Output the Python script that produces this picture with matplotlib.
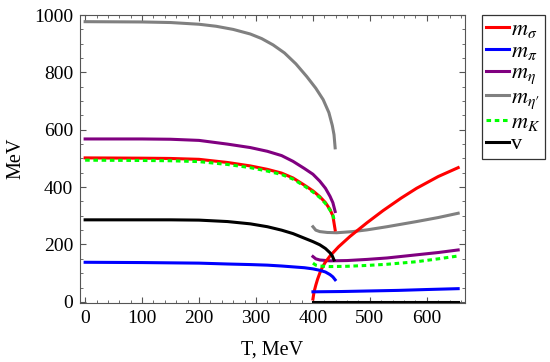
import numpy as np
import matplotlib
matplotlib.use('Agg')
import matplotlib.pyplot as plt
from matplotlib.ticker import MultipleLocator

plt.rcParams['font.family'] = ['Liberation Serif', 'DejaVu Serif']
plt.rcParams['mathtext.fontset'] = 'stix'

# ---- data (T in MeV, masses in MeV) ----
# low temperature branches
T_gray_lo = [0, 100, 150, 200, 230, 260, 290, 310, 330, 350, 370, 389, 405, 418, 428, 434, 437, 439]
gray_lo = [977, 976, 974, 968, 961, 950, 934, 918, 896, 868, 830, 786, 745, 705, 660, 615, 583, 537]

T_purple_lo = [0, 100, 150, 200, 250, 290, 320, 345, 365, 385, 400, 412, 422, 430, 435, 439]
purple_lo = [568, 568, 567, 563, 550, 538, 525, 510, 490, 465, 445, 421, 396, 368, 346, 315]

T_red_lo = [0, 100, 150, 200, 250, 290, 320, 345, 365, 385, 400, 412, 422, 430, 435, 439]
red_lo = [502, 501, 500, 497, 486, 474, 462, 449, 432, 407, 387, 367, 346, 322, 300, 251]

T_green_lo = [0, 100, 150, 200, 250, 290, 320, 345, 365, 385, 400, 412, 422, 430, 435, 438]
green_lo = [494, 493, 492, 489, 479, 468, 456, 444, 428, 404, 383, 364, 343, 320, 302, 282]

T_black_lo = [0, 100, 150, 200, 250, 290, 320, 345, 365, 385, 400, 412, 422, 430, 434, 437]
black_lo = [286, 286, 286, 285, 280, 272, 262, 250, 238, 222, 210, 199, 186, 171, 160, 146]

T_blue_lo = [0, 100, 200, 250, 290, 320, 345, 365, 385, 400, 412, 422, 430, 435, 439]
blue_lo = [138, 137, 135, 132, 130, 128, 125, 122, 119, 115, 110, 104, 95, 87, 77]

# high temperature branches
T_red_hi = [400, 402, 405, 408, 412, 416, 421, 430, 445, 465, 495, 523, 555, 582, 620, 655]
red_hi = [10, 35, 58, 78, 100, 118, 136, 160, 192, 228, 276, 318, 362, 396, 437, 468]

T_gray_hi = [400, 405, 412, 425, 442, 470, 495, 530, 582, 620, 655]
gray_hi = [262, 250, 245, 242, 241, 245, 251, 262, 280, 294, 309]

T_purple_hi = [400, 405, 412, 430, 460, 495, 530, 582, 620, 655]
purple_hi = [158, 150, 146, 143, 144, 148, 153, 164, 172, 181]

T_green_hi = [400, 405, 412, 430, 460, 495, 530, 582, 620, 655]
green_hi = [135, 128, 125, 123, 124, 127, 131, 140, 150, 160]

T_blue_hi = [400, 450, 500, 550, 600, 655]
blue_hi = [35, 36, 38, 40, 43, 46]

T_black_hi = [400, 655]
black_hi = [0, 0]

labels = [r'$m_\sigma$', r'$m_\pi$', r'$m_\eta$', r"$m_{\eta\prime}$", r'$m_K$', 'v']

fig = plt.figure(figsize=(5.5, 3.62), dpi=100)
ax = fig.add_axes([80/550, 1-303/362, (465-80)/550, (303-14.5)/362])

lw = 2.2
red, blue, purple, gray, green = '#ff0000', '#0000ff', '#800080', '#808080', '#00ff00'
dash = (0, (1.5, 1.2))

ax.plot(T_gray_lo, gray_lo, color=gray, lw=lw)
ax.plot(T_gray_hi, gray_hi, color=gray, lw=lw)
ax.plot(T_purple_lo, purple_lo, color=purple, lw=lw)
ax.plot(T_purple_hi, purple_hi, color=purple, lw=lw)
ax.plot(T_red_lo, red_lo, color=red, lw=lw)
ax.plot(T_red_hi, red_hi, color=red, lw=lw)
ax.plot(T_green_lo, green_lo, color=green, lw=lw, ls=dash)
ax.plot(T_green_hi, green_hi, color=green, lw=lw, ls=dash)
ax.plot(T_black_lo, black_lo, color='k', lw=lw)
ax.plot(T_black_hi, black_hi, color='k', lw=lw)
ax.plot(T_blue_lo, blue_lo, color=blue, lw=lw)
ax.plot(T_blue_hi, blue_hi, color=blue, lw=lw)

ax.set_xlim(-9, 667)
ax.set_ylim(-4, 1002)
ax.xaxis.set_major_locator(MultipleLocator(100))
ax.xaxis.set_minor_locator(MultipleLocator(20))
ax.yaxis.set_major_locator(MultipleLocator(200))
ax.yaxis.set_minor_locator(MultipleLocator(50))
ax.tick_params(which='both', direction='in', top=True, right=True,
               labelsize=14, colors='#555555', labelcolor='black')
ax.tick_params(which='major', length=4.5, width=0.8, pad=5)
ax.tick_params(which='minor', length=2.5, width=0.6)
for s in ax.spines.values():
    s.set_color('#555555')
    s.set_linewidth(0.8)

ax.set_xlabel('T, MeV', fontsize=14.5, labelpad=10)
ax.set_ylabel('MeV', fontsize=14.5, labelpad=6)

# legend
handles = [
    plt.Line2D([], [], color=red, lw=lw),
    plt.Line2D([], [], color=blue, lw=lw),
    plt.Line2D([], [], color=purple, lw=lw),
    plt.Line2D([], [], color=gray, lw=lw),
    plt.Line2D([], [], color=green, lw=lw, ls=dash),
    plt.Line2D([], [], color='k', lw=lw),
]
leg = fig.legend(handles, labels, loc='upper left', bbox_to_anchor=(482/550, 1-15/362),
                 fontsize=16, frameon=True, fancybox=False, edgecolor='black',
                 handlelength=1.0, handletextpad=0.12, labelspacing=0.05,
                 borderpad=0.2, borderaxespad=0)
leg.get_frame().set_linewidth(0.9)

fig.savefig('out.png', dpi=100)
